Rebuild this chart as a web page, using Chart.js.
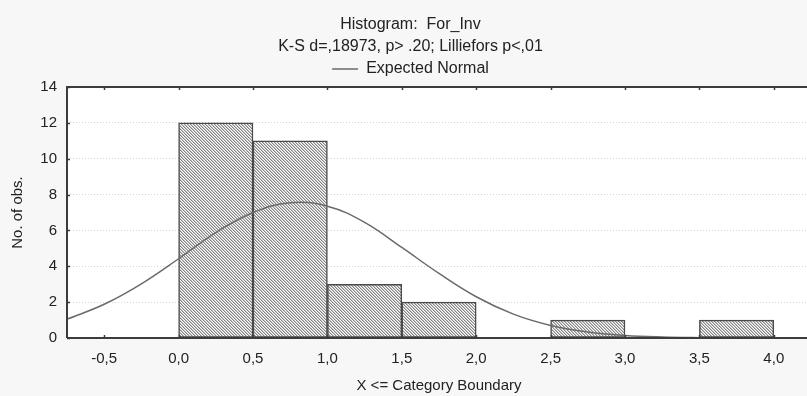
<!DOCTYPE html>
<html><head><meta charset="utf-8">
<script src="https://cdn.jsdelivr.net/npm/chart.js@4"></script>
<style>
html,body{margin:0;padding:0;background:#f7f7f7;overflow:hidden;width:807px;height:396px}
#wrap{width:811px;height:396px;position:relative}
</style></head>
<body><div id="wrap"><canvas id="c"></canvas></div>
<script>
const titleLines = ['Histogram:  For_Inv', 'K-S d=,18973, p> .20; Lilliefors p<,01'];
const legendLabel = 'Expected Normal';
const xAxisTitle = 'X <= Category Boundary';
const yAxisTitle = 'No. of obs.';
const binCenters = [0.25, 0.75, 1.25, 1.75, 2.75, 3.75];
const binCounts = [12, 11, 3, 2, 1, 1];
const curveX = [-0.75, -0.5, -0.25, 0, 0.25, 0.5, 0.75, 1.0, 1.25, 1.5, 1.75, 2.0, 2.25, 2.5, 2.75, 3.0, 3.25, 3.5, 3.75, 4.0, 4.25];
const curveY = [1.05, 1.88, 3.02, 4.42, 5.88, 7.0, 7.55, 7.35, 6.45, 5.05, 3.6, 2.3, 1.33, 0.7, 0.33, 0.14, 0.055, 0.02, 0.006, 0.002, 0.0005];
const xTicks = [-0.5, 0, 0.5, 1.0, 1.5, 2.0, 2.5, 3.0, 3.5, 4.0];
const yTicks = [0, 2, 4, 6, 8, 10, 12, 14];

function hatch(){
  const c = document.createElement('canvas'); c.width = 3; c.height = 3;
  const g = c.getContext('2d');
  g.fillStyle = '#ffffff'; g.fillRect(0,0,3,3);
  for (let i = 0; i < 3; i++) {
    g.fillStyle = '#858585'; g.fillRect(i, i, 1, 1);
    g.fillStyle = '#c6c6c6'; g.fillRect((i+1)%3, i, 1, 1);
  }
  return g.createPattern(c, 'repeat');
}
const fmt = v => Number(v).toFixed(1).replace('.', ',');
const font = 'Liberation Sans, Arial, sans-serif';
const axisColor = '#3c3c3c';

const frame = {
  id: 'frame',
  beforeDraw(chart){
    const {ctx, chartArea:a} = chart;
    ctx.save(); ctx.fillStyle = '#ffffff';
    ctx.fillRect(a.left, a.top, a.right - a.left, a.bottom - a.top);
    ctx.restore();
  },
  afterDraw(chart){
    const {ctx, chartArea:a, scales} = chart;
    ctx.save(); ctx.strokeStyle = axisColor; ctx.lineWidth = 1.5;
    ctx.beginPath();
    scales.x.ticks.forEach(t => {
      const px = Math.round(scales.x.getPixelForValue(t.value)) + 0.5;
      ctx.moveTo(px, a.bottom); ctx.lineTo(px, a.bottom - 3);
      ctx.moveTo(px, a.top); ctx.lineTo(px, a.top + 3);
    });
    scales.y.ticks.forEach(t => {
      const py = Math.round(scales.y.getPixelForValue(t.value)) + 0.5;
      ctx.moveTo(a.left, py); ctx.lineTo(a.left + 3, py);
    });
    ctx.stroke();
    ctx.lineWidth = 2;
    ctx.beginPath();
    ctx.moveTo(a.left, a.bottom); ctx.lineTo(a.left, a.top); ctx.lineTo(a.right, a.top);
    ctx.moveTo(a.left, a.bottom); ctx.lineTo(a.right, a.bottom);
    ctx.stroke();
    ctx.restore();
  }
};

new Chart(document.getElementById('c'), {
  type: 'bar',
  data: {
    datasets: [
      {
        type: 'line', label: legendLabel, order: 0,
        data: curveX.map((x, i) => ({x, y: curveY[i]})),
        borderColor: '#6a6a6a', borderWidth: 1.5, pointRadius: 0, tension: 0.4, fill: false
      },
      {
        type: 'bar', label: 'Counts', order: 1,
        data: binCenters.map((x, i) => ({x, y: binCounts[i]})),
        backgroundColor: hatch(), borderColor: '#4a4a4a', borderWidth: 1.5,
        barPercentage: 1, categoryPercentage: 1, borderSkipped: false
      }
    ]
  },
  options: {
    responsive: true, maintainAspectRatio: false, animation: false,
    devicePixelRatio: 1,
    layout: { padding: { left: 10, right: 0, top: 0, bottom: 0 } },
    plugins: {
      title: {
        display: true, text: titleLines, color: '#222',
        font: { family: font, size: 16, weight: 'normal', lineHeight: '22px' },
        padding: { top: 14, bottom: 0 }
      },
      legend: {
        display: true,
        labels: {
          filter: item => item.text === legendLabel,
          usePointStyle: true, pointStyle: 'line', pointStyleWidth: 26,
          color: '#222', font: { family: font, size: 16 }, padding: 3
        }
      },
      tooltip: { enabled: false }
    },
    scales: {
      x: {
        type: 'linear', min: -0.75, max: 4.25, offset: false,
        afterBuildTicks: s => { s.ticks = xTicks.map(v => ({value: v})); },
        afterFit: s => { s.height = 58; },
        ticks: { callback: v => fmt(v), color: '#222', font: { family: font, size: 15 }, padding: 12, maxRotation: 0, autoSkip: false },
        grid: { display: false, drawTicks: false, offset: false },
        border: { display: false },
        title: { display: true, text: xAxisTitle, color: '#222', font: { family: font, size: 15 }, padding: { top: 0, bottom: 1 } }
      },
      y: {
        min: 0, max: 14,
        afterBuildTicks: s => { s.ticks = yTicks.map(v => ({value: v})); },
        afterFit: s => { s.width = 57; },
        ticks: { callback: v => String(v), color: '#222', font: { family: font, size: 15 }, padding: 10 },
        grid: { color: ctx => (ctx.tick && (ctx.tick.value === 0 || ctx.tick.value === 14)) ? 'rgba(0,0,0,0)' : '#d6d6d6', drawTicks: false, lineWidth: 1 },
        border: { display: false, dash: [1, 2] },
        title: { display: true, text: yAxisTitle, color: '#222', font: { family: font, size: 15, lineHeight: 1 }, padding: { top: 0, bottom: 0 } }
      }
    }
  },
  plugins: [frame]
});
</script>
</body></html>
